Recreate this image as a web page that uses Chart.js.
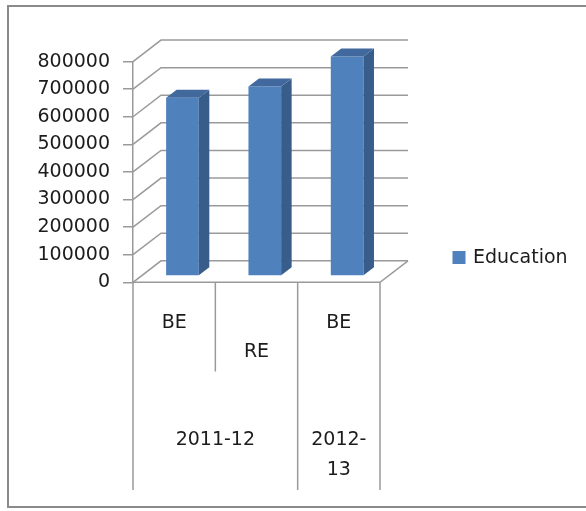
<!DOCTYPE html>
<html>
<head>
<meta charset="utf-8">
<script src="https://cdn.jsdelivr.net/npm/chart.js@4/dist/chart.umd.min.js"></script>
<style>
  html, body { margin: 0; padding: 0; background: #ffffff; overflow: hidden; }
  canvas { display: block; }
</style>
</head>
<body>
<canvas id="c" width="586" height="511"></canvas>
<script>
// ---- data ----
const categories = ["BE", "RE", "BE"];
const groupLabels = [["2011-12"], ["2012-", "13"]];
const groupSpans = [2, 1];
const seriesName = "Education";
const education = [646000, 687000, 796000];
const yTicks = [0, 100000, 200000, 300000, 400000, 500000, 600000, 700000, 800000];

// ---- styling / geometry ----
const FONT = "DejaVu Sans";
const TEXT = "#1c1c1c";
const GRID = "#9a9a9a";
const WALL_DX = 28, WALL_DY = 21.5;   // depth of the 3D box
const BAR_OX = 8.3, BAR_OY = 6.3;     // bar placement inside the box
const BAR_DX = 10.5, BAR_DY = 8;      // bar depth
const FRONT = "#4F81BD", SIDE = "#385D8A", TOP = "#41699E";

const threeD = {
  id: "threeD",
  beforeDraw(chart) {
    const ctx = chart.ctx;
    ctx.save();
    ctx.fillStyle = "#ffffff";
    ctx.fillRect(0, 0, chart.width, chart.height);
    ctx.strokeStyle = "#8a8a8a";
    ctx.lineWidth = 2;
    ctx.beginPath();
    ctx.moveTo(chart.width + 5, 6);
    ctx.lineTo(8, 6);
    ctx.lineTo(8, 507);
    ctx.lineTo(chart.width + 5, 507);
    ctx.stroke();
    ctx.restore();
  },
  beforeDatasetsDraw(chart) {
    const ctx = chart.ctx, ys = chart.scales.y, xs = chart.scales.x, a = chart.chartArea;
    ctx.save();
    ctx.strokeStyle = GRID;
    ctx.lineWidth = 1.5;
    // walls
    yTicks.forEach(v => {
      const y = ys.getPixelForValue(v);
      ctx.beginPath();
      ctx.moveTo(a.left, y);
      ctx.lineTo(a.left + WALL_DX, y - WALL_DY);
      ctx.lineTo(a.right + WALL_DX, y - WALL_DY);
      ctx.stroke();
    });
    // floor front edge & right edge
    const y0 = ys.getPixelForValue(0);
    ctx.beginPath();
    ctx.moveTo(a.left, y0);
    ctx.lineTo(a.right, y0);
    ctx.lineTo(a.right + WALL_DX, y0 - WALL_DY);
    ctx.stroke();
    // category dividers below the floor
    const n = categories.length;
    const step = xs.getPixelForValue(1) - xs.getPixelForValue(0);
    const bounds = [];
    for (let i = 0; i <= n; i++) bounds.push(xs.getPixelForValue(0) - step / 2 + i * step);
    const groupEnds = [0];
    groupSpans.forEach(s => groupEnds.push(groupEnds[groupEnds.length - 1] + s));
    bounds.forEach((bx, i) => {
      const full = groupEnds.includes(i);
      ctx.beginPath();
      ctx.moveTo(bx, y0);
      ctx.lineTo(bx, full ? 490 : 371.5);
      ctx.stroke();
    });
    // category labels
    ctx.fillStyle = TEXT;
    ctx.font = "19px '" + FONT + "'";
    ctx.textAlign = "center";
    ctx.textBaseline = "middle";
    categories.forEach((c, i) => {
      ctx.fillText(c, xs.getPixelForValue(i), i % 2 === 0 ? 323 : 352);
    });
    groupLabels.forEach((lines, g) => {
      const cx = (bounds[groupEnds[g]] + bounds[groupEnds[g + 1]]) / 2;
      lines.forEach((t, k) => ctx.fillText(t, cx, 440 + k * 30));
    });
    // legend
    ctx.fillStyle = FRONT;
    ctx.fillRect(452.5, 251, 13, 13);
    ctx.fillStyle = TEXT;
    ctx.textAlign = "left";
    ctx.fillText(chart.data.datasets[0].label, 473, 258);
    ctx.restore();
    // shift bars into the box
    ctx.save();
    ctx.translate(BAR_OX, -BAR_OY);
  },
  afterDatasetsDraw(chart) {
    const ctx = chart.ctx;
    const meta = chart.getDatasetMeta(0);
    meta.data.forEach(bar => {
      const p = bar.getProps(["x", "y", "base", "width"], true);
      const l = p.x - p.width / 2, r = p.x + p.width / 2, t = p.y, b = p.base;
      ctx.fillStyle = SIDE;
      ctx.beginPath();
      ctx.moveTo(r, t); ctx.lineTo(r + BAR_DX, t - BAR_DY);
      ctx.lineTo(r + BAR_DX, b - BAR_DY); ctx.lineTo(r, b);
      ctx.closePath(); ctx.fill();
      ctx.fillStyle = TOP;
      ctx.beginPath();
      ctx.moveTo(l, t); ctx.lineTo(l + BAR_DX, t - BAR_DY);
      ctx.lineTo(r + BAR_DX, t - BAR_DY); ctx.lineTo(r, t);
      ctx.closePath(); ctx.fill();
    });
    ctx.restore();
  }
};

new Chart(document.getElementById("c"), {
  type: "bar",
  data: {
    labels: categories,
    datasets: [{
      label: seriesName,
      data: education,
      backgroundColor: FRONT,
      borderWidth: 0,
      barPercentage: 0.397,
      categoryPercentage: 1,
      clip: false
    }]
  },
  options: {
    responsive: false,
    animation: false,
    devicePixelRatio: 1,
    layout: { padding: { top: 61.6, right: 206, bottom: 0, left: 0 } },
    scales: {
      x: {
        grid: { display: false },
        border: { display: false },
        ticks: { display: false },
        afterFit(s) { s.height = 511 - 282.3; }
      },
      y: {
        min: 0, max: 800000,
        afterBuildTicks(s) { s.ticks = yTicks.map(v => ({ value: v })); },
        ticks: {
          font: { family: FONT, size: 19 },
          color: TEXT,
          padding: 13,
          callback: v => String(v)
        },
        grid: { drawOnChartArea: false, drawTicks: true, tickLength: 10, color: GRID, lineWidth: 1.5 },
        border: { display: true, color: GRID, width: 1.5 },
        afterFit(s) { s.width = 133; }
      }
    },
    plugins: { legend: { display: false }, tooltip: { enabled: false } }
  },
  plugins: [threeD]
});
</script>
</body>
</html>
